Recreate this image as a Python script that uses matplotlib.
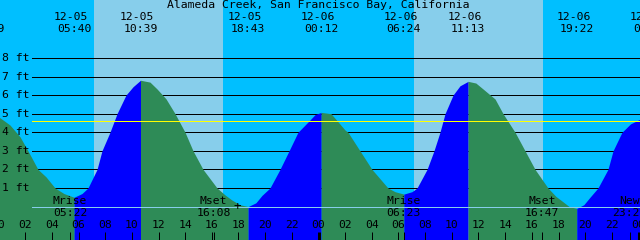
import matplotlib
matplotlib.use("Agg")
import matplotlib.pyplot as plt
import numpy as np

# tide curve: hours after 12-05 00:00, height in feet
tide_hours = [-0.85, 0.11, 0.86, 1.61, 2.21, 2.96, 3.56, 4.24, 4.91, 5.67,
              6.26, 6.71, 7.39, 7.76, 8.36, 8.89, 9.56, 10.09, 10.65,
              11.36, 11.89, 12.56, 13.24, 13.99, 14.59, 15.34, 16.39, 17.0, 17.51,
              18.1, 18.72,
              19.3, 19.76, 20.36, 21.11, 21.79, 22.46, 23.36, 23.74, 24.20,
              24.94, 25.99, 26.21, 27.11, 28.01, 29.21, 29.74, 30.40,
              31.01, 31.39, 32.14, 32.66, 33.11, 33.49, 34.09, 34.61, 35.22,
              35.8, 36.34, 37.24, 37.84, 38.74, 39.49, 40.24, 41.21, 41.8, 42.26,
              42.8, 43.37,
              43.9, 44.36, 44.96, 45.71, 46.09, 46.76, 47.4, 48.11, 48.87]
tide_feet = [5.0, 4.78, 4.39, 3.76, 3.0, 2.0, 1.6, 1.0, 0.7, 0.5,
             0.7, 1.0, 2.0, 3.0, 4.0, 5.0, 6.0, 6.45, 6.8,
             6.7, 6.33, 5.8, 5.0, 4.0, 3.0, 2.0, 1.0, 0.62, 0.35,
             0.1, 0.0,
             0.2, 0.6, 1.0, 2.0, 3.0, 4.0, 4.66, 4.95, 5.07,
             5.0, 4.12, 4.0, 3.0, 2.0, 1.0, 0.8, 0.67,
             0.8, 1.0, 2.0, 3.0, 4.0, 5.0, 6.0, 6.5, 6.74,
             6.65, 6.33, 5.79, 5.0, 4.0, 3.0, 2.0, 1.0, 0.55, 0.3,
             0.0, -0.1,
             0.1, 0.5, 1.0, 2.0, 3.0, 4.0, 4.45, 4.7, 5.0]

# high / low tide events
event_dates = ["12-04", "12-05", "12-05", "12-05", "12-06", "12-06", "12-06", "12-06", "12-07"]
event_times = ["23:09", "05:40", "10:39", "18:43", "00:12", "06:24", "11:13", "19:22", "00:52"]

# sun and moon
sunrise = ["07:10", "07:10"]
sunset = ["16:49", "16:49"]
moon_names = ["Mrise", "Mset", "Mrise", "Mset", "New"]
moon_times = ["05:22", "16:08", "06:23", "16:47", "23:21"]
moon_days = [0, 0, 1, 1, 1]

mean_level = 4.63
ft_lines = [1, 2, 3, 4, 5, 6, 7, 8]
title = "Alameda Creek, San Francisco Bay, California"


def to_hours(day_str, t):
    day = int(day_str.split("-")[1]) - 5
    hh, mm = t.split(":")
    return day * 24 + int(hh) + int(mm) / 60.0


NIGHT = "#00bfff"
DAY = "#87ceeb"
FALL = "#2e8b57"
RISE = "#0000ff"
px = 0.72  # one pixel in points at dpi 100
FS = 8.2

fig = plt.figure(figsize=(6.4, 2.4), dpi=100)
ax = fig.add_axes([0, 0, 1, 1])
ax.set_xlim(0.1125, 48.1125)
ax.set_ylim(-1.80, 11.12)
ax.axis("off")
fig.patch.set_facecolor(NIGHT)
ax.axvspan(-2, 50, color=NIGHT, zorder=0)

for d, (r, s) in enumerate(zip(sunrise, sunset)):
    ax.axvspan(d * 24 + to_hours("12-05", r), d * 24 + to_hours("12-05", s),
               color=DAY, lw=0, zorder=0)

for f in ft_lines:
    ax.axhline(f, xmin=32 / 640, xmax=1, color="black", lw=px, zorder=1)
    ax.text(2 / 640, f, f"{f} ft", transform=ax.get_yaxis_transform(),
            ha="left", va="center", fontsize=FS, family="DejaVu Sans Mono", zorder=4)

# tide fill, blue when rising, green when falling
h = np.array(tide_hours)
ft = np.array(tide_feet)
ext = [to_hours(d, t) for d, t in zip(event_dates, event_times)]
idx = [int(np.argmin(np.abs(h - e))) for e in ext]
for i0, i1 in zip(idx[:-1], idx[1:]):
    seg_h, seg_f = h[i0:i1 + 1], ft[i0:i1 + 1]
    col = RISE if seg_f[-1] > seg_f[0] else FALL
    ax.fill_between(seg_h, seg_f, -5, color=col, lw=0, zorder=2)

ax.axhline(mean_level, xmin=32 / 640, xmax=1, color="yellow", lw=px, zorder=3)
ax.axhline(0, xmin=32 / 640, xmax=1, color=DAY, lw=px, zorder=3)

tr = ax.get_xaxis_transform()
txt = dict(fontsize=FS, family="DejaVu Sans Mono", color="black", zorder=4, transform=tr)

ax.text(24 - 0.05, 1 - 5.5 / 240, title, ha="center", va="center", **txt)
for d, t, e in zip(event_dates, event_times, ext):
    ax.text(e - 0.25, 1 - 17 / 240, d, ha="center", va="center", **txt)
    ax.text(e, 1 - 29.5 / 240, t, ha="center", va="center", **txt)

# hour labels and ticks
for hr in range(0, 50, 2):
    ax.text(hr, 14.5 / 240, f"{hr % 24:02d}", ha="center", va="center", **txt)
    lw = 3 * px if hr % 24 == 0 else px
    ax.vlines(hr, 0, 8 / 240, color="black", lw=lw, transform=tr, zorder=4)

for name, t, d in zip(moon_names, moon_times, moon_days):
    mh = d * 24 + to_hours("12-05", t)
    ax.text(mh, 38.5 / 240, name, ha="center", va="center", **txt)
    ax.text(mh, 27 / 240, t, ha="center", va="center", **txt)
    ax.vlines(mh, 0, 8 / 240, color="black", lw=px, transform=tr, zorder=4)

ax.text(17.94, 0, "+", ha="center", va="center", fontsize=9,
        family="DejaVu Sans Mono", zorder=4)

fig.savefig("out.png", dpi=100, facecolor=NIGHT)
